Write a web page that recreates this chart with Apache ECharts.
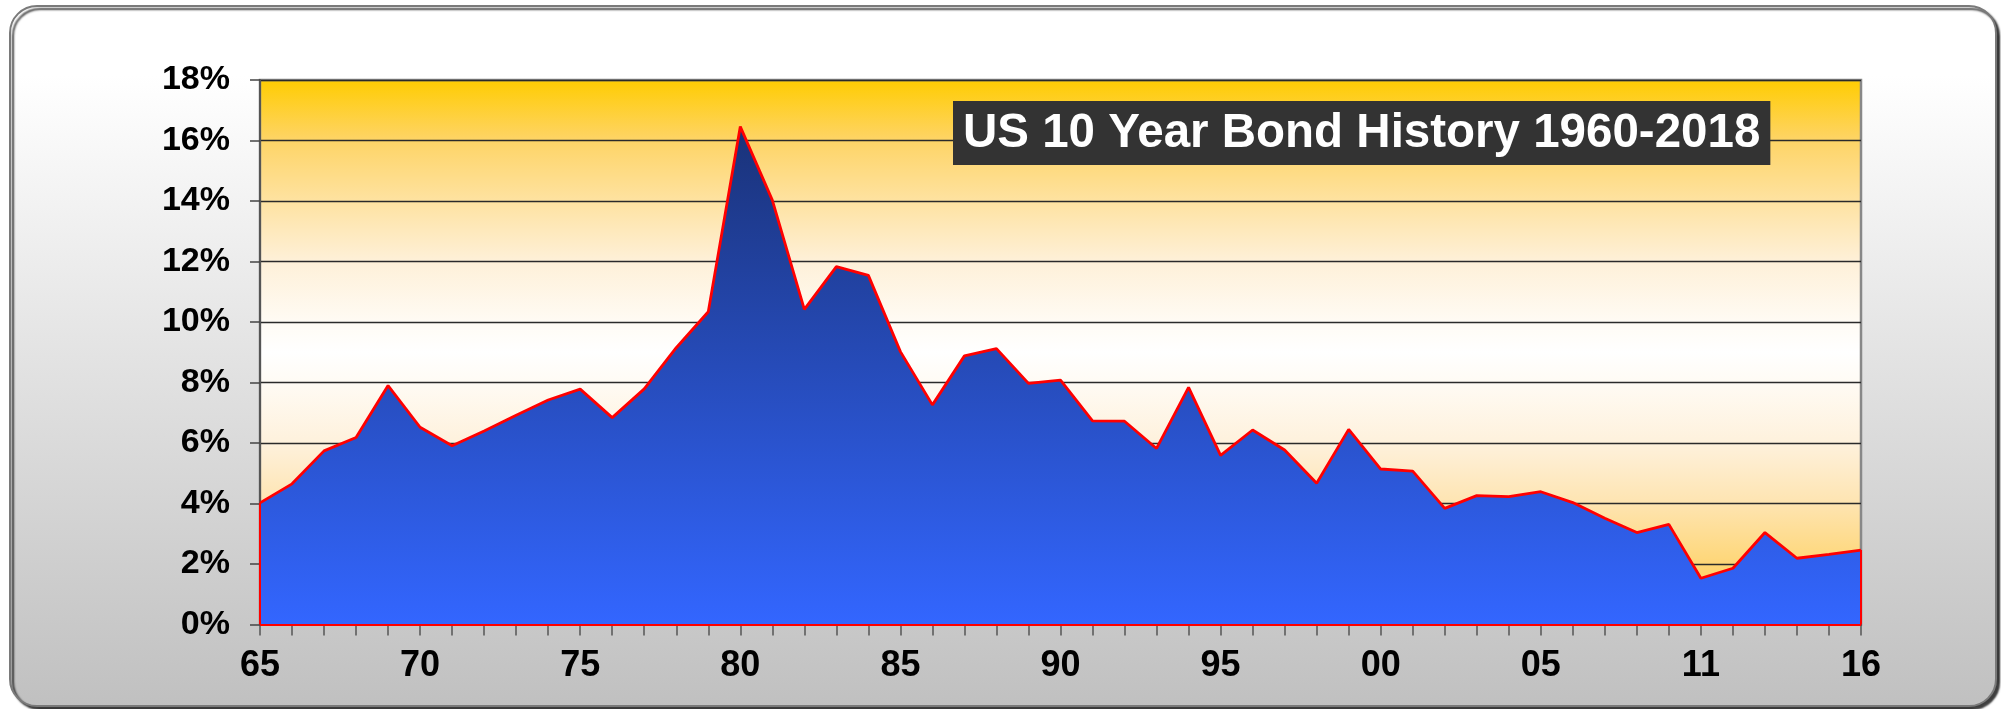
<!DOCTYPE html>
<html>
<head>
<meta charset="utf-8">
<title>US 10 Year Bond History</title>
<script src="https://cdn.jsdelivr.net/npm/echarts@6/dist/echarts.min.js"></script>
<style>
  html, body { margin: 0; padding: 0; background: #ffffff; }
  #chart { width: 2001px; height: 709px; }
</style>
</head>
<body>
<div id="chart"></div>
<script>
// Year labels (two digits); the series has no point for 2010
const years = ['65','66','67','68','69','70','71','72','73','74','75','76','77','78','79',
  '80','81','82','83','84','85','86','87','88','89','90','91','92','93','94','95','96','97','98','99',
  '00','01','02','03','04','05','06','07','08','09','11','12','13','14','15','16'];

// 10-year Treasury yield, percent
const yields = [4.02, 4.65, 5.74, 6.18, 7.90, 6.52, 5.91, 6.40, 6.92, 7.42,
  7.78, 6.84, 7.79, 9.15, 10.34, 16.46, 14.03, 10.42, 11.83, 11.54,
  9.02, 7.26, 8.88, 9.12, 7.97, 8.08, 6.73, 6.72, 5.82, 7.84,
  5.59, 6.43, 5.77, 4.67, 6.45, 5.14, 5.07, 3.84, 4.26, 4.23,
  4.39, 4.03, 3.51, 3.04, 3.31, 1.53, 1.86, 3.04, 2.19, 2.32, 2.46];

// Value axis ticks
const yMin = 0, yMax = 18, yStep = 2;

const chartTitle = 'US 10 Year Bond History 1960-2018';

const FONT = '"Liberation Sans", Arial, Helvetica, sans-serif';
const first = years[0], last = years[years.length - 1];

const chart = echarts.init(document.getElementById('chart'), null, { renderer: 'canvas' });

chart.setOption({
  animation: false,
  backgroundColor: 'transparent',
  graphic: [{
    type: 'rect',
    z: -10,
    silent: true,
    shape: { x: 10, y: 6, width: 1986, height: 700, r: 27 },
    style: {
      fill: new echarts.graphic.LinearGradient(0, 0, 0, 1, [
        { offset: 0, color: '#ffffff' },
        { offset: 0.1, color: '#ffffff' },
        { offset: 1, color: '#c0c0c0' }
      ]),
      stroke: '#7a7a7a',
      lineWidth: 2,
      shadowColor: 'rgba(0,0,0,0.75)',
      shadowOffsetX: 3,
      shadowOffsetY: 3,
      shadowBlur: 2
    }
  }],
  title: {
    text: chartTitle,
    left: 953,
    top: 101,
    padding: [9, 10, 7, 10],
    backgroundColor: '#333333',
    textStyle: {
      color: '#ffffff',
      fontFamily: FONT,
      fontWeight: 'bold',
      fontSize: 47.5,
      lineHeight: 48
    }
  },
  grid: {
    left: 260,
    right: 140,
    top: 80,
    bottom: 84.5,
    show: true,
    borderColor: '#888888',
    borderWidth: 2.5,
    backgroundColor: new echarts.graphic.LinearGradient(0, 0, 0, 1, [
      { offset: 0, color: '#ffcc00' },
      { offset: 0.111, color: '#fed465' },
      { offset: 0.222, color: '#fee2a0' },
      { offset: 0.333, color: '#fef0d8' },
      { offset: 0.444, color: '#fffbf4' },
      { offset: 0.5, color: '#ffffff' },
      { offset: 0.556, color: '#fffbf4' },
      { offset: 0.667, color: '#fef1dc' },
      { offset: 0.778, color: '#fee4b0' },
      { offset: 0.889, color: '#fed676' },
      { offset: 1, color: '#fdcb4a' }
    ])
  },
  xAxis: {
    type: 'category',
    data: years,
    boundaryGap: false,
    axisLine: { show: true, lineStyle: { color: '#000000', width: 1.5 } },
    axisTick: { show: true, interval: 0, length: 11, lineStyle: { color: '#555555', width: 1.5 } },
    axisLabel: {
      interval: 4,
      margin: 24,
      color: '#000000',
      fontFamily: FONT,
      fontWeight: 'bold',
      fontSize: 36,
      lineHeight: 36
    },
    splitLine: { show: false }
  },
  yAxis: {
    type: 'value',
    min: yMin,
    max: yMax,
    interval: yStep,
    axisLine: { show: true, lineStyle: { color: '#555555', width: 2 } },
    axisTick: { show: true, length: 10, lineStyle: { color: '#444444', width: 1.5 } },
    axisLabel: {
      margin: 30,
      formatter: '{value}%',
      color: '#000000',
      fontFamily: FONT,
      fontWeight: 'bold',
      fontSize: 34
    },
    splitLine: { show: true, lineStyle: { color: '#2a2a2a', width: 1.4 } }
  },
  series: [{
    type: 'line',
    data: yields,
    symbol: 'none',
    z: 3,
    lineStyle: { color: '#ff0000', width: 2.8 },
    areaStyle: {
      opacity: 1,
      color: new echarts.graphic.LinearGradient(0, 0, 0, 1, [
        { offset: 0, color: '#1a3278' },
        { offset: 1, color: '#3366ff' }
      ])
    },
    markLine: {
      silent: true,
      symbol: ['none', 'none'],
      label: { show: false },
      lineStyle: { color: '#ff0000', width: 2, type: 'solid' },
      data: [
        [{ coord: [first, yMin] }, { coord: [first, yields[0]] }],
        [{ coord: [first, yMin] }, { coord: [last, yMin] }],
        [{ coord: [last, yMin] }, { coord: [last, yields[yields.length - 1]] }]
      ]
    }
  }]
});
</script>
</body>
</html>
